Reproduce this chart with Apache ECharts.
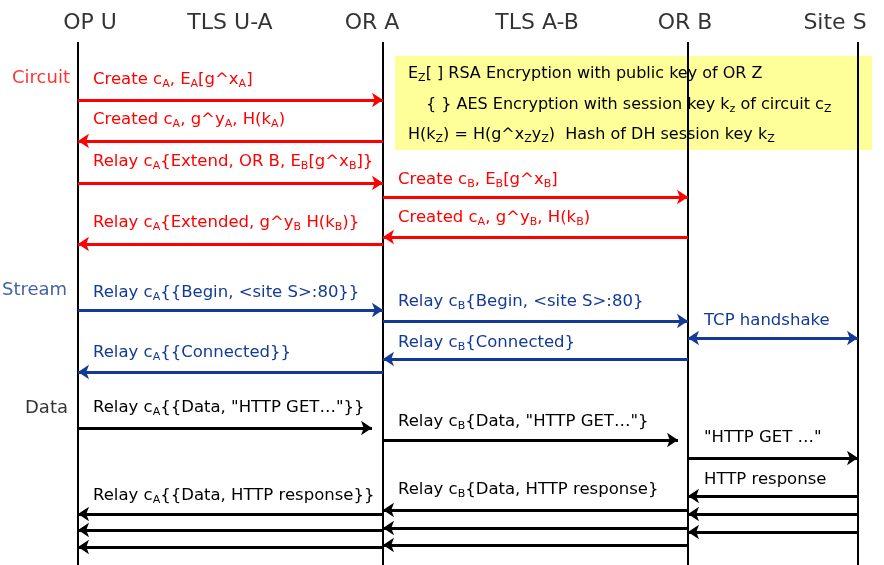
<!DOCTYPE html>
<html><head><meta charset="utf-8">
<script src="https://cdn.jsdelivr.net/npm/echarts@6/dist/echarts.min.js"></script>
<style>html,body{margin:0;background:#fff}#c{width:884px;height:565px}</style>
</head><body><div id="c"></div>
<script>
var RED = '#ff0000', BLUE = '#123a96', BLACK = '#000000';
var colors = {r: RED, b: BLUE, k: BLACK};

// lifelines x positions
var lifelineX = [78, 383, 688, 858];
var headers = [['OP U', 90], ['TLS U-A', 230], ['OR A', 372], ['TLS A-B', 537], ['OR B', 685], ['Site S', 835]];
var sections = [['Circuit', 12, 78, 'r'], ['Stream', 2, 290, 'b'], ['Data', 25, 408, 'k']];

// arrows: [fromX, toX, y, colour, both ends]
var arrows = [
  [78, 383, 100, 'r'], [383, 78, 141, 'r'], [78, 383, 183, 'r'], [383, 688, 197, 'r'],
  [688, 383, 237, 'r'], [383, 78, 244, 'r'],
  [78, 383, 310, 'b'], [383, 688, 321, 'b'], [688, 858, 338, 'b', 1], [688, 383, 359, 'b'], [383, 78, 372, 'b'],
  [78, 372, 428, 'k'], [383, 678, 440, 'k'], [688, 858, 458, 'k'],
  [858, 688, 496, 'k'], [688, 383, 510, 'k'], [383, 78, 514, 'k'],
  [858, 688, 514, 'k'], [688, 383, 528, 'k'], [383, 78, 530, 'k'],
  [858, 688, 532, 'k'], [688, 383, 545, 'k'], [383, 78, 547, 'k']
];

// message labels: [x, y, text, colour]; {s|..} marks a subscript
var messages = [
  [93, 80, 'Create c{s|A}, E{s|A}[g^x{s|A}]', 'r'],
  [93, 120, 'Created c{s|A}, g^y{s|A}, H(k{s|A})', 'r'],
  [93, 162, 'Relay c{s|A}{Extend, OR B, E{s|B}[g^x{s|B}]}', 'r'],
  [398, 180, 'Create c{s|B}, E{s|B}[g^x{s|B}]', 'r'],
  [398, 218, 'Created c{s|A}, g^y{s|B}, H(k{s|B})', 'r'],
  [93, 223, 'Relay c{s|A}{Extended, g^y{s|B} H(k{s|B})}', 'r'],
  [93, 293, 'Relay c{s|A}{{Begin, <site S>:80}}', 'b'],
  [398, 302, 'Relay c{s|B}{Begin, <site S>:80}', 'b'],
  [704, 321, 'TCP handshake', 'b'],
  [398, 343, 'Relay c{s|B}{Connected}', 'b'],
  [93, 353, 'Relay c{s|A}{{Connected}}', 'b'],
  [93, 408, 'Relay c{s|A}{{Data, "HTTP GET…"}}', 'k'],
  [398, 422, 'Relay c{s|B}{Data, "HTTP GET…"}', 'k'],
  [704, 438, '"HTTP GET …"', 'k'],
  [704, 480, 'HTTP response', 'k'],
  [398, 490, 'Relay c{s|B}{Data, HTTP response}', 'k'],
  [93, 496, 'Relay c{s|A}{{Data, HTTP response}}', 'k']
];

var legendLines = [
  [408, 74, 'E{s|Z}[ ] RSA Encryption with public key of OR Z'],
  [426, 105, '{ } AES Encryption with session key k{s|z} of circuit c{s|Z}'],
  [408, 135, 'H(k{s|Z}) = H(g^x{s|Z}y{s|Z})  Hash of DH session key k{s|Z}']
];
var legendBox = [[395, 56], [872, 150]];

var FONT = 'DejaVu Sans';

var series = [];
series.push({
  type: 'lines', coordinateSystem: 'cartesian2d', silent: true, z: 3,
  lineStyle: {color: '#000', width: 2, opacity: 1}, symbol: 'none',
  data: lifelineX.map(function (x) { return {coords: [[x, 42], [x, 565]]}; })
});
series.push({
  type: 'scatter', data: [], z: 1,
  markArea: {silent: true, itemStyle: {color: '#ffff99'}, data: [[{coord: legendBox[0]}, {coord: legendBox[1]}]]}
});
['r', 'b', 'k'].forEach(function (k) {
  series.push({
    type: 'lines', coordinateSystem: 'cartesian2d', silent: true, z: 4,
    symbolSize: [11, 11],
    lineStyle: {color: colors[k], width: 3, opacity: 1},
    data: arrows.filter(function (a) { return a[3] === k; }).map(function (a) {
      return {coords: [[a[0], a[2]], [a[1], a[2]]], symbol: a[4] ? ['arrow', 'arrow'] : ['none', 'arrow']};
    })
  });
});

function textSeries(items, col, size) {
  return {
    type: 'scatter', symbolSize: 0, silent: true, z: 5,
    data: items.map(function (m) { return {value: [m[0], m[1]], txt: m[2]}; }),
    label: {
      show: true, position: 'right', distance: 0, color: col, opacity: 1,
      fontFamily: FONT, fontSize: size, lineHeight: 22,
      formatter: function (p) { return p.data.txt; },
      rich: {s: {fontFamily: FONT, fontSize: 11, color: col, lineHeight: 22, padding: [9, 0, 0, 0]}}
    }
  };
}
['r', 'b', 'k'].forEach(function (k) {
  series.push(textSeries(messages.filter(function (m) { return m[3] === k; }), colors[k], 16.5));
});
series.push(textSeries(legendLines, '#000', 16));
series.push({
  type: 'scatter', symbolSize: 0, silent: true, z: 5,
  data: headers.map(function (h) { return {value: [h[1], 34], name: h[0]}; }),
  label: {show: true, position: 'top', distance: 0, formatter: '{b}', fontFamily: FONT, fontSize: 22, color: '#000'}
});
sections.forEach(function (s) {
  series.push({
    type: 'scatter', symbolSize: 0, silent: true, z: 5,
    data: [{value: [s[1], s[2]], name: s[0]}],
    label: {show: true, position: 'right', distance: 0, formatter: '{b}', fontFamily: FONT, fontSize: 18, color: colors[s[3]]}
  });
});

var chart = echarts.init(document.getElementById('c'));
chart.setOption({
  animation: false,
  grid: {left: 0, right: 0, top: 0, bottom: 0},
  xAxis: {type: 'value', min: 0, max: 884, show: false},
  yAxis: {type: 'value', min: 0, max: 565, inverse: true, show: false},
  series: series
});
</script>
</body></html>
